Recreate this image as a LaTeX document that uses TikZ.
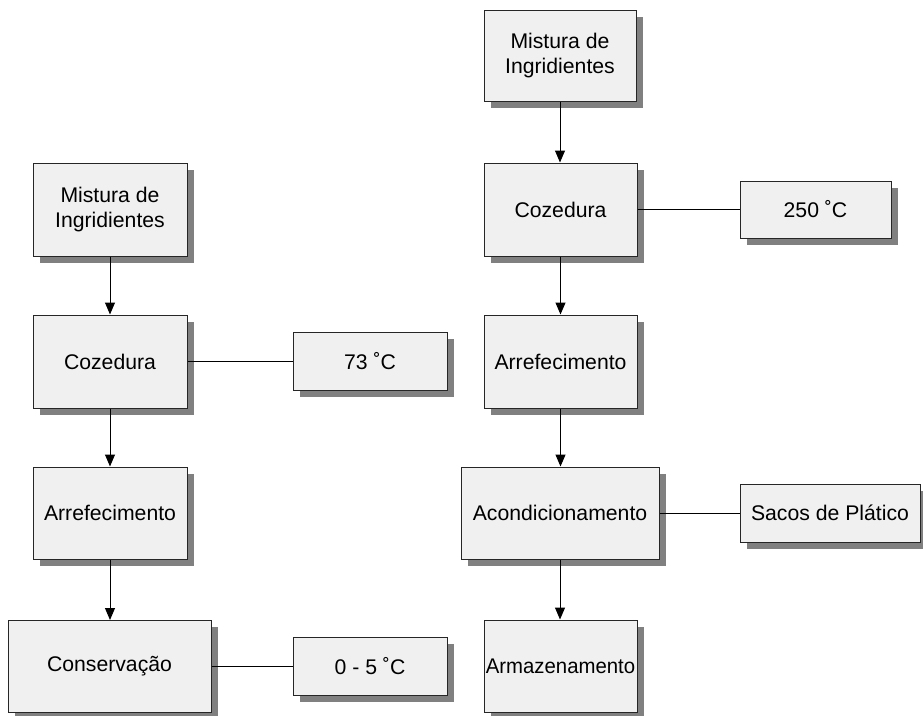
\documentclass[tikz,border=0pt]{standalone}
\usepackage{fontspec}
\setmainfont{Liberation Sans}
\usetikzlibrary{arrows.meta,shadows}
\definecolor{boxfill}{HTML}{F0F0F0}
\definecolor{shadowgray}{HTML}{808080}
\begin{document}
\begin{tikzpicture}[x=1pt,y=-1pt,
  procbox/.style={draw=black!85,line width=1pt,fill=boxfill,
    drop shadow={shadow xshift=6.5pt,shadow yshift=-6.5pt,fill=shadowgray,opacity=1},
    align=center,inner sep=0pt,font=\fontsize{21.2}{25}\selectfont},
  flow/.style={line width=1pt,-{Triangle[width=10pt,length=12pt]}},
  link/.style={line width=1pt}]
\useasboundingbox (0,0) rectangle (923,715);
% left process line
\node[procbox,minimum width=154pt,minimum height=93pt] (lmix) at (110,209.5) {Mistura de\\Ingridientes};
\node[procbox,minimum width=154pt,minimum height=93pt] (lcoz) at (110,361.5) {Cozedura};
\node[procbox,minimum width=154pt,minimum height=92pt] (larr) at (110,513) {Arrefecimento};
\node[procbox,minimum width=203pt,minimum height=92pt] (lcons) at (109.5,666.5) {Conservação};
\node[procbox,minimum width=154pt,minimum height=58pt] (ltemp) at (370,361.5) {73 ˚C};
\node[procbox,minimum width=154pt,minimum height=58pt] (lcold) at (370,666.5) {0 - 5 ˚C};
% right process line
\node[procbox,minimum width=152pt,minimum height=91pt] (rmix) at (560,56) {Mistura de\\Ingridientes};
\node[procbox,minimum width=153pt,minimum height=93pt] (rcoz) at (560.5,209.5) {Cozedura};
\node[procbox,minimum width=153pt,minimum height=93pt] (rarr) at (560.5,361.5) {Arrefecimento};
\node[procbox,minimum width=198pt,minimum height=92pt] (racond) at (560,513) {Acondicionamento};
\node[procbox,minimum width=153pt,minimum height=92pt] (rarm) at (560.5,666) {\makebox[0pt]{\scalebox{0.96}[1]{Armazenamento}}};
\node[procbox,minimum width=151pt,minimum height=57pt] (rtemp) at (815.5,209.5) {250 ˚C};
\node[procbox,minimum width=180pt,minimum height=58pt] (rsac) at (830,513) {Sacos de Plático};
% connectors
\draw[flow] (lmix) -- (lcoz);
\draw[flow] (lcoz) -- (larr);
\draw[flow] (larr.south) -- (larr.south |- lcons.north);
\draw[link] (lcoz.east) -- (lcoz.east -| ltemp.west);
\draw[link] (lcons.east) -- (lcons.east -| lcold.west);
\draw[flow] (rmix.south) -- (rmix.south |- rcoz.north);
\draw[flow] (rcoz) -- (rarr);
\draw[flow] (rarr.south) -- (rarr.south |- racond.north);
\draw[flow] (racond.south) -- (racond.south |- rarm.north);
\draw[link] (rcoz.east) -- (rcoz.east -| rtemp.west);
\draw[link] (racond.east) -- (racond.east -| rsac.west);
\end{tikzpicture}
\end{document}
